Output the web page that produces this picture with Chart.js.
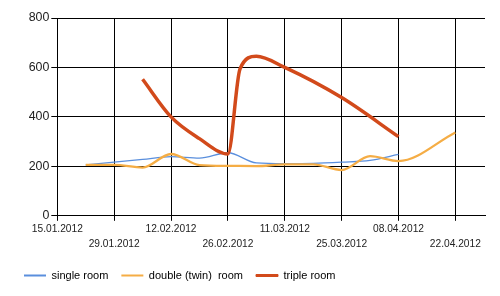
<!DOCTYPE html>
<html>
<head>
<meta charset="utf-8">
<script src="https://cdn.jsdelivr.net/npm/chart.js@4"></script>
<style>
  html, body { margin: 0; padding: 0; background: #fff; }
  #wrap { width: 500px; height: 296px; }
</style>
</head>
<body>
<div id="wrap"><canvas id="chart"></canvas></div>
<script>
// data
const tickLabels = ['15.01.2012', '29.01.2012', '12.02.2012', '26.02.2012', '11.03.2012', '25.03.2012', '08.04.2012', '22.04.2012'];
const seriesNames = ['single room', 'double (twin)  room', 'triple room'];

const singleDates = ['22.01.2012', '05.02.2012', '12.02.2012', '19.02.2012', '26.02.2012', '04.03.2012', '11.03.2012', '18.03.2012', '25.03.2012', '01.04.2012', '08.04.2012'];
const singleValues = [206, 228, 239, 233, 255, 214, 211, 212, 217, 224, 248];

const doubleDates = ['22.01.2012', '29.01.2012', '05.02.2012', '12.02.2012', '19.02.2012', '26.02.2012', '04.03.2012', '11.03.2012', '18.03.2012', '25.03.2012', '01.04.2012', '08.04.2012', '22.04.2012'];
const doubleValues = [206, 206, 195, 250, 205, 202, 201, 208, 208, 185, 241, 221, 337];

const tripleDates = ['05.02.2012', '12.02.2012', '19.02.2012', '26.02.2012', '29.02.2012', '04.03.2012', '11.03.2012', '25.03.2012', '08.04.2012'];
const tripleValues = [552, 400, 312, 250, 595, 645, 600, 478, 320];

const colors = ['#5a8fdd', '#f5ad45', '#d24a1b'];

function dayOffset(s) {
    const [d, m, y] = s.split('.').map(Number);
    return Math.round((Date.UTC(y, m - 1, d) - Date.UTC(2012, 0, 15)) / 86400000);
}

function points(dates, values) {
    return dates.map((d, i) => ({ x: dayOffset(d), y: values[i] }));
}

const ctx = document.getElementById('chart').getContext('2d');
new Chart(ctx, {
    type: 'line',
    data: {
        datasets: [
            { label: seriesNames[0], data: points(singleDates, singleValues), borderColor: colors[0], borderWidth: 1.3, order: 3 },
            { label: seriesNames[1], data: points(doubleDates, doubleValues), borderColor: colors[1], borderWidth: 2.3, order: 2 },
            { label: seriesNames[2], data: points(tripleDates, tripleValues), borderColor: colors[2], borderWidth: 3.5, order: 1 }
        ]
    },
    options: {
        responsive: true,
        maintainAspectRatio: false,
        animation: false,
        elements: {
            point: { radius: 0 },
            line: { cubicInterpolationMode: 'monotone', fill: false }
        },
        layout: { padding: { left: 11, right: 15, top: 18, bottom: 5 } },
        scales: {
            x: {
                type: 'linear',
                min: 0,
                max: 105.3,
                afterBuildTicks: (scale) => {
                    scale.ticks = tickLabels.map((_, i) => ({ value: i * 14 }));
                },
                afterFit: (scale) => { scale.height = 41.2; },
                grid: { color: '#000', lineWidth: 1, tickLength: 5 },
                border: { color: '#000' },
                ticks: {
                    autoSkip: false,
                    maxRotation: 0,
                    padding: 1,
                    color: '#222',
                    font: { family: 'Arial, "Liberation Sans"', size: 10.2, lineHeight: 1.45 },
                    callback: (value) => {
                        const i = Math.round(value / 14);
                        return i % 2 === 0 ? [tickLabels[i]] : ['', tickLabels[i]];
                    }
                }
            },
            y: {
                min: 0,
                max: 800,
                afterFit: (scale) => { scale.width = 46.3; },
                grid: { color: '#000', lineWidth: 1, tickLength: 6 },
                border: { color: '#000' },
                ticks: {
                    stepSize: 200,
                    padding: 2,
                    color: '#222',
                    font: { family: 'Arial, "Liberation Sans"', size: 12.4 }
                }
            }
        },
        plugins: {
            tooltip: { enabled: false },
            legend: {
                position: 'bottom',
                align: 'start',
                labels: {
                    boxWidth: 22,
                    boxHeight: 2,
                    padding: 13,
                    color: '#222',
                    font: { family: 'Arial, "Liberation Sans"', size: 11 },
                    sort: (a, b) => a.datasetIndex - b.datasetIndex,
                    generateLabels: (chart) => chart.data.datasets.map((ds, i) => ({
                        text: ds.label,
                        fillStyle: colors[i],
                        strokeStyle: colors[i],
                        lineWidth: i === 2 ? 1 : 0,
                        datasetIndex: i,
                        hidden: false
                    }))
                }
            }
        }
    }
});
</script>
</body>
</html>
